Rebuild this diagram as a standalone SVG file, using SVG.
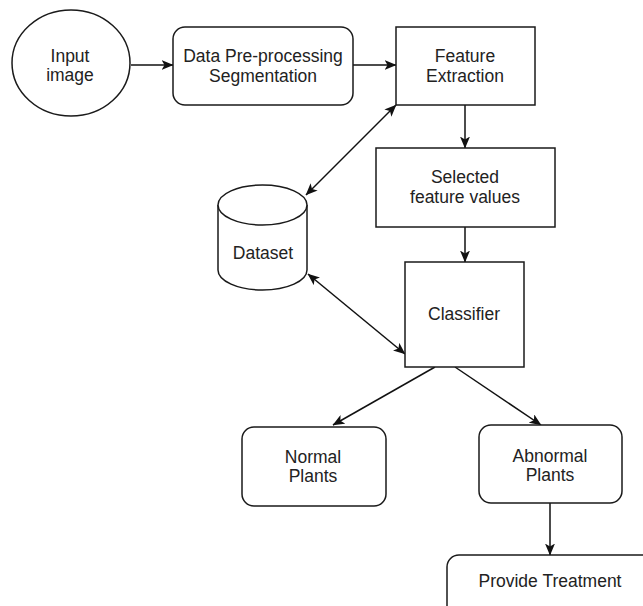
<svg xmlns="http://www.w3.org/2000/svg" width="643" height="606" viewBox="0 0 643 606">
<style>
.n{fill:#fff;stroke:#1a1a1a;stroke-width:1.5}
.t{font-family:"Liberation Sans",Arial,sans-serif;font-size:17.5px;fill:#222;text-anchor:middle}
.c{stroke:#111;stroke-width:1.5;fill:none}
.a{marker-end:url(#ah)}
.d{marker-end:url(#ah);marker-start:url(#ah)}
</style>
<defs>
<marker id="ah" viewBox="0 0 12 10" refX="11.5" refY="5" markerWidth="12" markerHeight="10" markerUnits="userSpaceOnUse" orient="auto-start-reverse">
<path d="M0,0 L12,5 L0,10 L3,5 Z" fill="#111"/>
</marker>
</defs>
<rect width="643" height="606" fill="#fff"/>
<g id="connectors">
<line class="c a" x1="131" y1="65" x2="173" y2="65"/>
<line class="c a" x1="353" y1="65" x2="396" y2="65"/>
<line class="c a" x1="465" y1="105" x2="465" y2="148"/>
<line class="c a" x1="465" y1="227" x2="465" y2="262"/>
<line class="c d" x1="306" y1="195" x2="396" y2="105"/>
<line class="c d" x1="308" y1="274" x2="405" y2="354"/>
<line class="c a" x1="435" y1="367" x2="333" y2="425"/>
<line class="c a" x1="455" y1="367" x2="541" y2="425"/>
<line class="c a" x1="550" y1="503" x2="550" y2="555"/>
</g>
<g id="input">
<ellipse class="n" cx="71" cy="63" rx="59" ry="53"/>
<text class="t" x="70" y="62">Input</text>
<text class="t" x="70" y="81">image</text>
</g>
<g id="preprocessing">
<rect class="n" x="173" y="27" width="180" height="78" rx="12"/>
<text class="t" x="263" y="62">Data Pre-processing</text>
<text class="t" x="263" y="82">Segmentation</text>
</g>
<g id="feature-extraction">
<rect class="n" x="396" y="27" width="139" height="78"/>
<text class="t" x="465" y="62">Feature</text>
<text class="t" x="465" y="82">Extraction</text>
</g>
<g id="selected">
<rect class="n" x="376" y="148" width="179" height="79"/>
<text class="t" x="465" y="183">Selected</text>
<text class="t" x="465" y="203">feature values</text>
</g>
<g id="dataset">
<path class="n" d="M218,205 L218,270 A44.5,20 0 0 0 307,270 L307,205 A44.5,20 0 0 0 218,205 Z"/>
<path class="n" d="M218,205 A44.5,20 0 0 0 307,205" fill="none"/>
<text class="t" x="263" y="259">Dataset</text>
</g>
<g id="classifier">
<rect class="n" x="405" y="262" width="119" height="105"/>
<text class="t" x="464" y="320">Classifier</text>
</g>
<g id="normal">
<rect class="n" x="242" y="427" width="144" height="79" rx="12"/>
<text class="t" x="313" y="463">Normal</text>
<text class="t" x="313" y="482">Plants</text>
</g>
<g id="abnormal">
<rect class="n" x="479" y="425" width="143" height="78" rx="12"/>
<text class="t" x="550" y="462">Abnormal</text>
<text class="t" x="550" y="481">Plants</text>
</g>
<g id="treatment">
<rect class="n" x="447" y="555" width="210" height="80" rx="12"/>
<text class="t" x="550" y="587">Provide Treatment</text>
</g>
</svg>
